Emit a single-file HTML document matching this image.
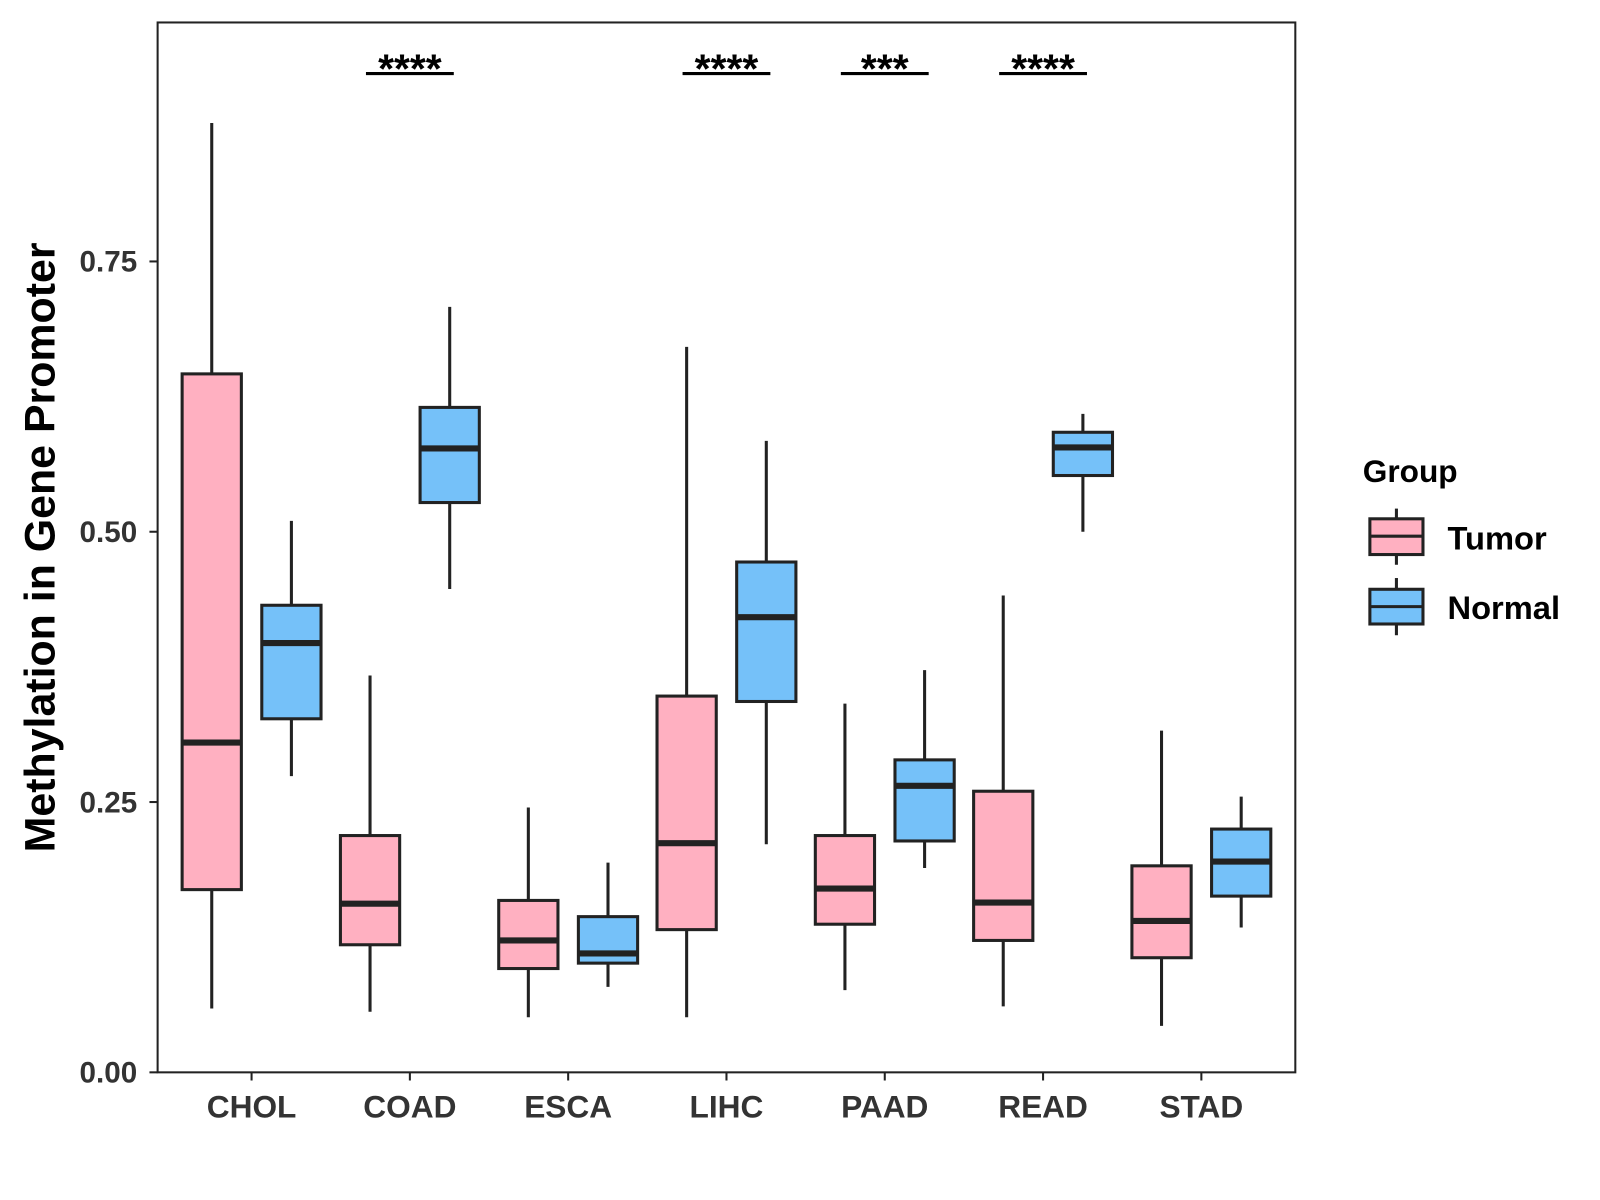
<!DOCTYPE html>
<html><head><meta charset="utf-8"><style>
html,body{margin:0;padding:0;background:#fff;}
svg{display:block;font-family:"Liberation Sans",Arial,sans-serif;}
</style></head><body>
<svg id="chart" width="1600" height="1200" viewBox="0 0 1566 1175" xmlns="http://www.w3.org/2000/svg">
<rect x="154" y="22" width="1114" height="1028" fill="#fff" stroke="#222" stroke-width="2"/>
<g id="marks"></g>
<text transform="translate(53,536) rotate(-90)" text-anchor="middle" font-size="42" font-weight="bold" fill="#000">Methylation in Gene Promoter</text>
<g>
<text x="1334" y="472" font-size="31" font-weight="bold">Group</text>
<g>
<line x1="1367" y1="498" x2="1367" y2="553" stroke="#222" stroke-width="3"/>
<rect x="1341" y="508" width="52" height="35" fill="#FFB0C1" stroke="#222" stroke-width="3"/>
<line x1="1341" y1="525" x2="1393" y2="525" stroke="#222" stroke-width="3"/>
<text x="1417" y="538" font-size="32" font-weight="bold">Tumor</text></g>
<g>
<line x1="1367" y1="566" x2="1367" y2="622" stroke="#222" stroke-width="3"/>
<rect x="1341" y="577" width="52" height="34" fill="#75C1F9" stroke="#222" stroke-width="3"/>
<line x1="1341" y1="594" x2="1393" y2="594" stroke="#222" stroke-width="3"/>
<text x="1417" y="606" font-size="32" font-weight="bold">Normal</text></g>
</g>
</svg>
<script>
const categories=["CHOL","COAD","ESCA","LIHC","PAAD","READ","STAD"];
// [low, q1, median, q3, high]
const tumorStats=[[0.059,0.169,0.305,0.646,0.878],[0.056,0.118,0.156,0.219,0.367],[0.051,0.096,0.122,0.159,0.245],[0.051,0.132,0.212,0.348,0.671],[0.076,0.137,0.170,0.219,0.341],[0.061,0.122,0.157,0.260,0.441],[0.043,0.106,0.140,0.191,0.316]];
const normalStats=[[0.274,0.327,0.397,0.432,0.510],[0.447,0.527,0.577,0.615,0.708],[0.079,0.101,0.110,0.144,0.194],[0.211,0.343,0.421,0.472,0.584],[0.189,0.214,0.265,0.289,0.372],[0.500,0.552,0.578,0.592,0.609],[0.134,0.163,0.195,0.225,0.255]];
const signif=["","****","","****","***","****",""];
const yTicks=[0,0.25,0.5,0.75];
const yTickLabels=["0.00","0.25","0.50","0.75"];
const NS="http://www.w3.org/2000/svg";
const g=document.getElementById('marks');
function y(v){return 1050-v*1058.67;}
function x(i){return 246+i*155;}
function mk(tag,attrs,parent){const e=document.createElementNS(NS,tag);for(const k in attrs)e.setAttribute(k,attrs[k]);(parent||g).appendChild(e);return e;}
yTicks.forEach((t,i)=>{
  const tk=mk('line',{x1:146,x2:154,y1:y(t),y2:y(t),stroke:'#222','stroke-width':2});
  
  
  const tl=mk('text',{x:134,y:y(t)+10,'text-anchor':'end','font-size':29,'font-weight':'bold',fill:'#333'});
  
  
  tl.textContent=yTickLabels[i];
});
function box(cx,s,fill,name){
  const grp=mk('g',{});
  
  
  mk('line',{x1:cx,x2:cx,y1:y(s[0]),y2:y(s[4]),stroke:'#222','stroke-width':3},grp);
  mk('rect',{x:cx-29,y:y(s[3]),width:58,height:y(s[1])-y(s[3]),fill:fill,stroke:'#222','stroke-width':3},grp);
  mk('line',{x1:cx-29,x2:cx+29,y1:y(s[2]),y2:y(s[2]),stroke:'#222','stroke-width':6},grp);
}
categories.forEach((c,i)=>{
  const cx=x(i);
  box(cx-39,tumorStats[i],'#FFB0C1','box-tumor-'+c.toLowerCase());
  box(cx+39,normalStats[i],'#75C1F9','box-normal-'+c.toLowerCase());
  const tk=mk('line',{x1:cx,x2:cx,y1:1050,y2:1058,stroke:'#222','stroke-width':2});
  
  
  const tl=mk('text',{x:cx,y:1094,'text-anchor':'middle','font-size':31,'font-weight':'bold',fill:'#333'});
  
  
  tl.textContent=c;
  if(signif[i]){
    const sb=mk('line',{x1:cx-43,x2:cx+43,y1:72,y2:72,stroke:'#000','stroke-width':3});
    
    
    const st=mk('text',{x:cx,y:81,'text-anchor':'middle','font-size':40,'font-weight':'bold',fill:'#000'});
    
    
    st.textContent=signif[i];
  }
});
</script>
</body></html>
